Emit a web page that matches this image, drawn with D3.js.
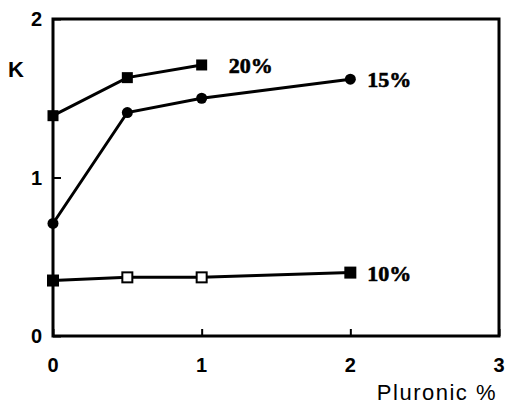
<!DOCTYPE html>
<html>
<head>
<meta charset="utf-8">
<script src="https://cdn.jsdelivr.net/npm/d3@7"></script>
<style>
  body { margin: 0; background: #fff; }
  svg { display: block; }
</style>
</head>
<body>
<svg id="chart" width="506" height="405"></svg>
<script>
// values
var pluronic = [0, 0.5, 1, 2];
var k20 = [1.39, 1.63, 1.71];
var k15 = [0.71, 1.41, 1.50, 1.62];
var k10 = [0.35, 0.37, 0.37, 0.40];
var xTicks = [0, 1, 2, 3];
var yTicks = [0, 1, 2];
var seriesNames = ['20%', '15%', '10%'];

var svg = d3.select('#chart');

var margin = {top: 19, right: 7, bottom: 69, left: 53};
var w = 506 - margin.left - margin.right;
var h = 405 - margin.top - margin.bottom;

var xScale = d3.scaleLinear().domain([0, 3]).range([0, w]);
var yScale = d3.scaleLinear().domain([0, 2]).range([h, 0]);

var g = svg.append('g')
  .attr('transform', 'translate(' + margin.left + ',' + margin.top + ')');

// inward ticks, no labels (drawn separately below)
var xAxis = d3.axisBottom(xScale).tickValues(xTicks).tickSize(-7).tickFormat('');
var yAxis = d3.axisLeft(yScale).tickValues(yTicks).tickSize(-8).tickFormat('');

g.append('g').attr('transform', 'translate(0,' + h + ')').call(xAxis)
  .call(function(s) { s.select('.domain').remove(); })
  .selectAll('line').attr('stroke', '#000').attr('stroke-width', 2);
g.append('g').call(yAxis)
  .call(function(s) { s.select('.domain').remove(); })
  .selectAll('line').attr('stroke', '#000').attr('stroke-width', 2);

// frame
g.append('rect')
  .attr('width', w).attr('height', h)
  .attr('fill', 'none').attr('stroke', '#000').attr('stroke-width', 3);

// tick labels
var tickFont = 'bold 20px "Liberation Sans", Arial, sans-serif';
g.selectAll('.xlab').data(xTicks).enter().append('text')
  .attr('x', function(d) { return xScale(d); })
  .attr('y', h + 36)
  .attr('text-anchor', 'middle')
  .style('font', tickFont)
  .text(function(d) { return d; });
g.selectAll('.ylab').data(yTicks).enter().append('text')
  .attr('x', -11)
  .attr('y', function(d) { return yScale(d) + 7; })
  .attr('text-anchor', 'end')
  .style('font', tickFont)
  .text(function(d) { return d; });

// axis titles
svg.append('text').attr('x', 8).attr('y', 77)
  .style('font', 'bold 22px "Liberation Sans", Arial, sans-serif').text('K');
svg.append('text').attr('x', 497).attr('y', 400).attr('text-anchor', 'end')
  .style('font', '22px "Liberation Sans", Arial, sans-serif')
  .style('letter-spacing', '1.5px')
  .text('Pluronic %');

var line = d3.line()
  .x(function(d) { return xScale(d[0]); })
  .y(function(d) { return yScale(d[1]); });

function pairs(vals) {
  return vals.map(function(v, i) { return [pluronic[i], v]; });
}

var d20 = pairs(k20), d15 = pairs(k15), d10 = pairs(k10);

[d20, d15, d10].forEach(function(d) {
  g.append('path').datum(d)
    .attr('d', line)
    .attr('fill', 'none').attr('stroke', '#000').attr('stroke-width', 3);
});

// markers
g.selectAll('.sq20').data(d20).enter().append('rect')
  .attr('x', function(d) { return xScale(d[0]) - 5.5; })
  .attr('y', function(d) { return yScale(d[1]) - 5.5; })
  .attr('width', 11).attr('height', 11).attr('fill', '#000');

g.selectAll('.c15').data(d15).enter().append('circle')
  .attr('cx', function(d) { return xScale(d[0]); })
  .attr('cy', function(d) { return yScale(d[1]); })
  .attr('r', 5.5).attr('fill', '#000');

g.selectAll('.sq10').data(d10).enter().append('rect')
  .attr('x', function(d) { return xScale(d[0]) - 5; })
  .attr('y', function(d) { return yScale(d[1]) - 5; })
  .attr('width', 10).attr('height', 10)
  .attr('fill', function(d, i) { return (i === 0 || i === d10.length - 1) ? '#000' : '#fff'; })
  .attr('stroke', '#000').attr('stroke-width', 2);

// series labels beside the last point
var labelData = [d20[d20.length - 1], d15[d15.length - 1], d10[d10.length - 1]];
g.selectAll('.slab').data(labelData).enter().append('text')
  .attr('x', function(d, i) { return xScale(d[0]) + (i === 0 ? 27 : 17); })
  .attr('y', function(d) { return yScale(d[1]) + 8; })
  .style('font', 'bold 22px "Liberation Serif", "Times New Roman", serif')
  .style('stroke', '#000').style('stroke-width', 0.6)
  .text(function(d, i) { return seriesNames[i]; });
</script>
</body>
</html>
